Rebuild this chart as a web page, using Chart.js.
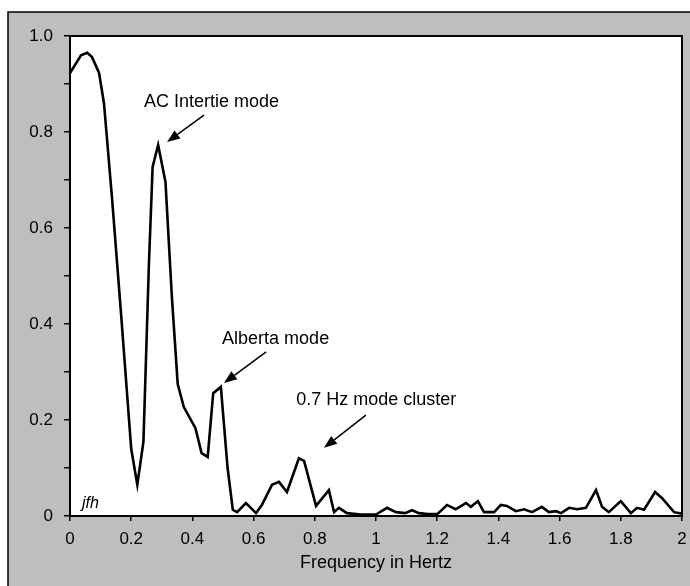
<!DOCTYPE html>
<html>
<head>
<meta charset="utf-8">
<script src="https://cdn.jsdelivr.net/npm/chart.js@4"></script>
<style>
  body { margin: 0; background: #fff; }
  canvas { display: block; }
</style>
</head>
<body>
<canvas id="myChart" width="690" height="586"></canvas>
<script>
// spectrum (Hz, normalised amplitude)
const freq = [0, 0.036, 0.056, 0.072, 0.095, 0.111, 0.137, 0.167, 0.2, 0.22, 0.24, 0.258, 0.27, 0.288, 0.312, 0.333,
    0.352, 0.372, 0.41, 0.43, 0.45, 0.468, 0.493, 0.515, 0.532, 0.546, 0.575, 0.608, 0.627, 0.66, 0.683, 0.709,
    0.748, 0.765, 0.804, 0.846, 0.863, 0.879, 0.905, 0.95, 1.0, 1.036, 1.065, 1.095, 1.118, 1.14, 1.17, 1.2,
    1.232, 1.26, 1.294, 1.31, 1.333, 1.353, 1.386, 1.408, 1.428, 1.457, 1.484, 1.51, 1.542, 1.565, 1.588, 1.605,
    1.631, 1.657, 1.686, 1.719, 1.739, 1.761, 1.8, 1.833, 1.853, 1.876, 1.912, 1.935, 1.974, 2.0];
const amplitude = [0.923, 0.96, 0.965, 0.956, 0.923, 0.86, 0.665, 0.42, 0.14, 0.065, 0.155, 0.527, 0.727, 0.773, 0.696, 0.456,
    0.275, 0.227, 0.183, 0.131, 0.123, 0.256, 0.269, 0.1, 0.013, 0.008, 0.027, 0.006, 0.023, 0.065, 0.071, 0.05,
    0.12, 0.115, 0.021, 0.054, 0.008, 0.017, 0.006, 0.003, 0.003, 0.017, 0.008, 0.006, 0.012, 0.006, 0.004, 0.004,
    0.023, 0.014, 0.027, 0.019, 0.031, 0.008, 0.008, 0.023, 0.021, 0.01, 0.014, 0.008, 0.019, 0.008, 0.01, 0.006,
    0.017, 0.014, 0.017, 0.054, 0.019, 0.008, 0.031, 0.006, 0.017, 0.013, 0.05, 0.037, 0.008, 0.005];

const xTickLabels = ['0', '0.2', '0.4', '0.6', '0.8', '1', '1.2', '1.4', '1.6', '1.8', '2'];
const yTickLabels = ['0', '', '0.2', '', '0.4', '', '0.6', '', '0.8', '', '1.0'];

// callouts, in data units
const noteTexts = ['AC Intertie mode', 'Alberta mode', '0.7 Hz mode cluster'];
const notePos = [[0.242, 0.852], [0.497, 0.358], [0.739, 0.231]];
const arrowFrom = [[0.438, 0.835], [0.641, 0.342], [0.967, 0.21]];
const arrowTo = [[0.317, 0.779], [0.503, 0.277], [0.83, 0.142]];
const signature = 'jfh';
const signaturePos = [0.039, 0.017];

const FONT = "'Liberation Sans', Arial, Helvetica, sans-serif";
const GRAY = '#bebebe';

const points = freq.map((f, i) => ({ x: f, y: amplitude[i] }));

const framePlugin = {
    id: 'frame',
    beforeDraw(chart) {
        const ctx = chart.ctx;
        const a = chart.chartArea;
        ctx.save();
        ctx.fillStyle = '#fff';
        ctx.fillRect(0, 0, chart.width, chart.height);
        ctx.fillStyle = GRAY;
        ctx.fillRect(8, 12, chart.width - 8, chart.height - 12);
        ctx.strokeStyle = '#000';
        ctx.lineWidth = 1.5;
        ctx.beginPath();
        ctx.moveTo(8, chart.height);
        ctx.lineTo(8, 12);
        ctx.lineTo(chart.width, 12);
        ctx.stroke();
        ctx.fillStyle = '#fff';
        ctx.fillRect(a.left, a.top, a.right - a.left, a.bottom - a.top);
        ctx.restore();
    },
    afterDatasetsDraw(chart) {
        const ctx = chart.ctx;
        const a = chart.chartArea;
        const xs = chart.scales.x, ys = chart.scales.y;
        ctx.save();
        ctx.strokeStyle = '#000';
        ctx.lineWidth = 2;
        ctx.strokeRect(a.left, a.top, a.right - a.left, a.bottom - a.top);

        ctx.fillStyle = '#000';
        ctx.font = '18px ' + FONT;
        ctx.textBaseline = 'alphabetic';
        ctx.textAlign = 'left';
        noteTexts.forEach((t, i) => {
            ctx.fillText(t, xs.getPixelForValue(notePos[i][0]), ys.getPixelForValue(notePos[i][1]));
        });

        ctx.lineWidth = 1.5;
        arrowFrom.forEach((p, i) => {
            const x1 = xs.getPixelForValue(p[0]), y1 = ys.getPixelForValue(p[1]);
            const x2 = xs.getPixelForValue(arrowTo[i][0]), y2 = ys.getPixelForValue(arrowTo[i][1]);
            const ang = Math.atan2(y2 - y1, x2 - x1);
            const len = 13, half = 5;
            const bx = x2 - len * Math.cos(ang), by = y2 - len * Math.sin(ang);
            ctx.beginPath();
            ctx.moveTo(x1, y1);
            ctx.lineTo(bx, by);
            ctx.stroke();
            ctx.beginPath();
            ctx.moveTo(x2, y2);
            ctx.lineTo(bx + half * Math.sin(ang), by - half * Math.cos(ang));
            ctx.lineTo(bx - half * Math.sin(ang), by + half * Math.cos(ang));
            ctx.closePath();
            ctx.fill();
        });

        ctx.font = 'italic 16px ' + FONT;
        ctx.fillText(signature, xs.getPixelForValue(signaturePos[0]), ys.getPixelForValue(signaturePos[1]));
        ctx.restore();
    }
};

new Chart(document.getElementById('myChart'), {
    type: 'scatter',
    data: {
        datasets: [{
            data: points,
            showLine: true,
            borderColor: '#000',
            borderWidth: 2.6,
            pointRadius: 0,
            tension: 0
        }]
    },
    options: {
        responsive: false,
        animation: false,
        layout: { padding: { top: 36, right: 8, left: 0, bottom: 0 } },
        plugins: { legend: { display: false }, tooltip: { enabled: false } },
        scales: {
            x: {
                type: 'linear',
                min: 0,
                max: 2,
                afterFit: s => { s.height = 70; s.paddingLeft = 0; s.paddingRight = 0; },
                ticks: {
                    stepSize: 0.2,
                    color: '#000',
                    padding: 8,
                    maxRotation: 0,
                    autoSkip: false,
                    font: { family: FONT, size: 17 },
                    callback: (v, i) => xTickLabels[i]
                },
                grid: { drawOnChartArea: false, drawTicks: true, tickLength: 5, color: '#000', lineWidth: 1.5 },
                border: { display: true, color: '#000', width: 2 },
                title: {
                    display: true,
                    text: 'Frequency in Hertz',
                    color: '#000',
                    font: { family: FONT, size: 18 },
                    padding: { top: 0, bottom: 12 }
                }
            },
            y: {
                type: 'linear',
                min: 0,
                max: 1,
                afterFit: s => { s.width = 70; },
                ticks: {
                    stepSize: 0.1,
                    color: '#000',
                    padding: 11,
                    autoSkip: false,
                    font: { family: FONT, size: 17 },
                    callback: (v, i) => yTickLabels[i]
                },
                grid: { drawOnChartArea: false, drawTicks: true, tickLength: 6, color: '#000', lineWidth: 1.5 },
                border: { display: true, color: '#000', width: 2 }
            }
        }
    },
    plugins: [framePlugin]
});
</script>
</body>
</html>
